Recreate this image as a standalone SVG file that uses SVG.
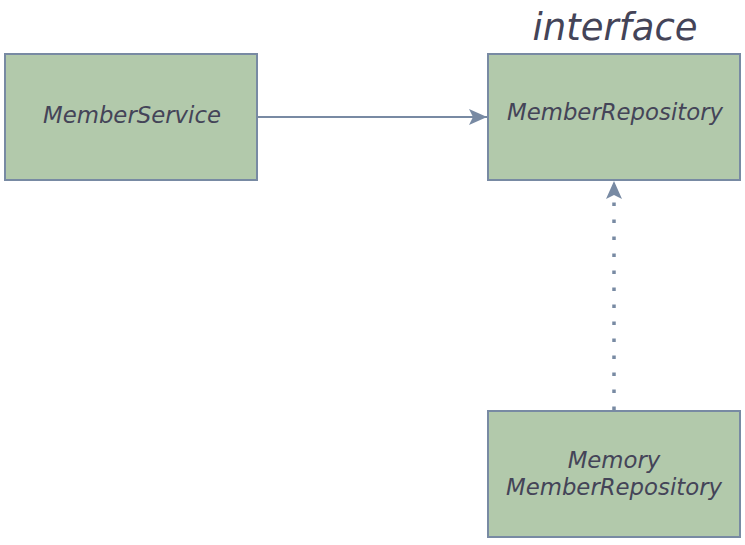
<svg xmlns="http://www.w3.org/2000/svg" width="745" height="545" viewBox="0 0 745 545">
<style>
.box{fill:#b2c9ab;stroke:#788aa3;stroke-width:2}
.t{font-family:"DejaVu Sans",Verdana,sans-serif;font-style:italic;font-size:22.8px;fill:#444458;text-anchor:middle}
.title{font-family:"DejaVu Sans",Verdana,sans-serif;font-style:italic;font-size:37px;fill:#444458;text-anchor:middle}
.c{stroke:#788aa3;fill:none;stroke-width:2}
.dot{stroke-width:3.5;stroke-dasharray:3.5,13.5}
</style>
<defs>
<marker id="ah" viewBox="0 0 20 20" refX="19" refY="10" markerWidth="20" markerHeight="20" markerUnits="userSpaceOnUse" orient="auto">
<path d="M1,2 L19,10 L1,18 L5,10 Z" fill="#788aa3"/>
</marker>
</defs>
<g id="connectors">
<path class="c" d="M257,117 L487,117" marker-end="url(#ah)"/>
<path class="c dot" d="M614,410 L614,181" marker-end="url(#ah)"/>
</g>
<g id="memberService">
<rect class="box" x="5" y="54" width="252" height="126"/>
<text class="t" x="132" y="123">MemberService</text>
</g>
<g id="memberRepository">
<text class="title" x="615" y="40">interface</text>
<rect class="box" x="488" y="54" width="252" height="126"/>
<text class="t" x="615" y="120">MemberRepository</text>
</g>
<g id="memoryMemberRepository">
<rect class="box" x="488" y="411" width="252" height="126"/>
<text class="t" x="614" y="468">Memory</text>
<text class="t" x="614" y="495">MemberRepository</text>
</g>
</svg>
